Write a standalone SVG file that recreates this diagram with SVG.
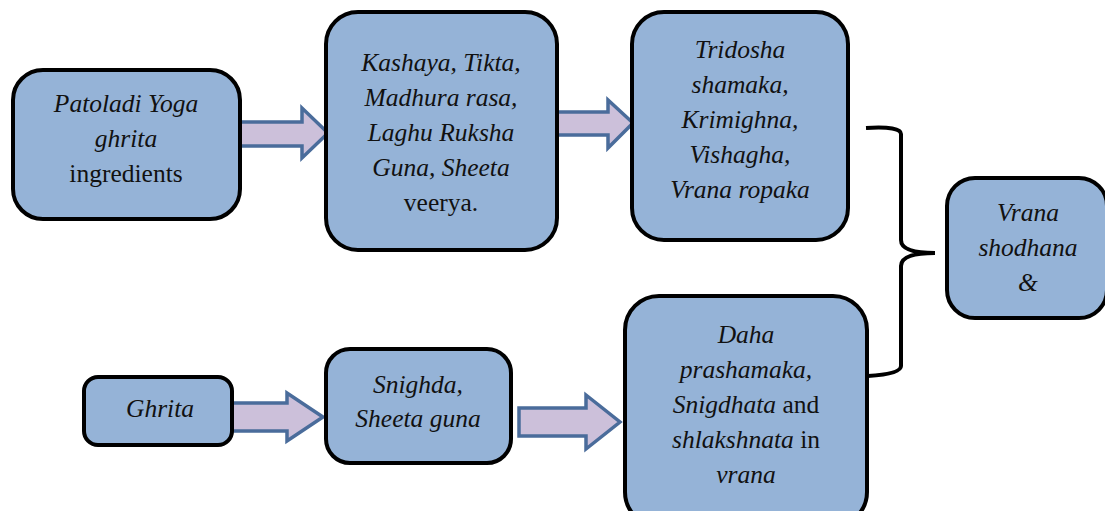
<svg xmlns="http://www.w3.org/2000/svg" width="1105" height="511" viewBox="0 0 1105 511">
<style>
.box{fill:#95b3d7;stroke:#000;stroke-width:4}
.arr{fill:#ccc0da;stroke:#4a6c9b;stroke-width:3.5;stroke-linejoin:miter}
.brace{fill:none;stroke:#000;stroke-width:4}
</style>
<rect width="1105" height="511" fill="#fff"/>
<g id="connectors">
<path class="arr" d="M240,122 H302 V108 L328,133 L302,158 V146 H240 Z"/>
<path class="arr" d="M557,112 H608 V100 L633,123 L608,148 V135 H557 Z"/>
<path class="arr" d="M232,403 H287 V393 L323,417 L287,441 V431 H232 Z"/>
<path class="arr" d="M519,408 H586 V395 L620,422 L586,449 V436 H519 Z"/>
<path class="brace" d="M866,128 Q901,126 901,134 V240 Q901,253 935,253 Q901,253 901,266 V366 Q901,374 868,376"/>
</g>
<g font-family="Liberation Serif, Times New Roman, serif" font-size="25.5" fill="#111" text-anchor="middle">
<g id="n1"><rect class="box" x="13" y="70" width="227" height="149" rx="30"/>
<text font-style="italic" x="126" y="112">Patoladi Yoga</text><text font-style="italic" x="126" y="147">ghrita</text><text x="126" y="182">ingredients</text></g>
<g id="n2"><rect class="box" x="326" y="12" width="231" height="238" rx="32"/>
<text font-style="italic" x="441" y="71">Kashaya, Tikta,</text><text font-style="italic" x="441" y="106">Madhura rasa,</text><text font-style="italic" x="441" y="141">Laghu Ruksha</text><text font-style="italic" x="441" y="176">Guna, Sheeta</text><text x="441" y="211">veerya.</text></g>
<g id="n3"><rect class="box" x="632" y="12" width="216" height="228" rx="32"/>
<text font-style="italic" x="740" y="58">Tridosha</text><text font-style="italic" x="740" y="93">shamaka,</text><text font-style="italic" x="740" y="128">Krimighna,</text><text font-style="italic" x="740" y="163">Vishagha,</text><text font-style="italic" x="740" y="198">Vrana ropaka</text></g>
<g id="n4"><rect class="box" x="947" y="178" width="160" height="140" rx="28"/>
<text font-style="italic" x="1028" y="221">Vrana</text><text font-style="italic" x="1028" y="256">shodhana</text><text font-style="italic" x="1028" y="291">&amp;</text></g>
<g id="n5"><rect class="box" x="84" y="377" width="148" height="68" rx="14"/>
<text font-style="italic" x="160" y="417">Ghrita</text></g>
<g id="n6"><rect class="box" x="326" y="349" width="185" height="114" rx="24"/>
<text font-style="italic" x="418" y="393">Snighda,</text><text font-style="italic" x="418" y="427">Sheeta guna</text></g>
<g id="n7"><rect class="box" x="625" y="296" width="242" height="230" rx="34"/>
<text font-style="italic" x="746" y="343">Daha</text><text font-style="italic" x="746" y="378">prashamaka,</text><text x="746" y="413"><tspan font-style="italic">Snigdhata</tspan> and</text><text x="746" y="448"><tspan font-style="italic">shlakshnata</tspan> in</text><text font-style="italic" x="746" y="483">vrana</text></g>
</g>
</svg>
